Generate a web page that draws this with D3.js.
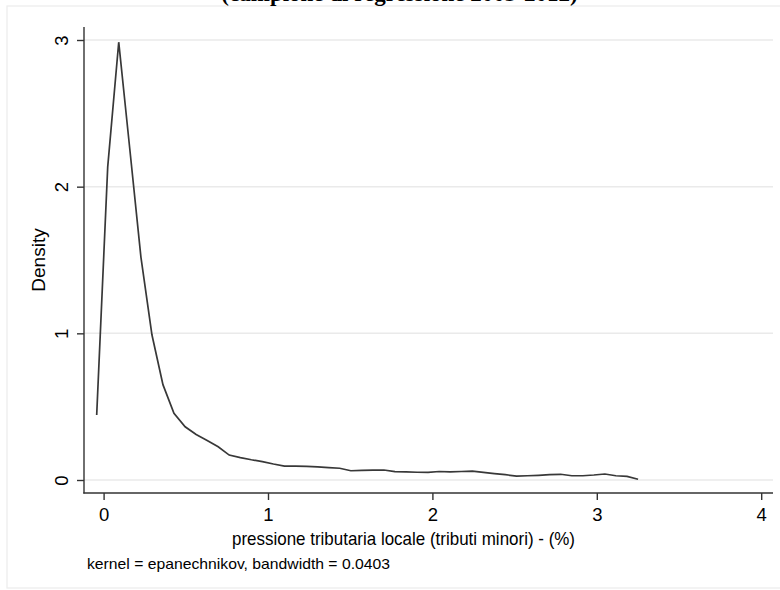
<!DOCTYPE html>
<html>
<head>
<meta charset="utf-8">
<script src="https://cdn.jsdelivr.net/npm/d3@7/dist/d3.min.js"></script>
<style>
  html, body { margin: 0; padding: 0; background: #fff; }
  svg { display: block; }
</style>
</head>
<body>
<svg id="chart" width="780" height="590"></svg>
<script>
// Kernel density estimate (evaluation grid x, density y)
const xValues = [-0.042, 0.025, 0.092, 0.159, 0.227, 0.294, 0.361, 0.428, 0.496, 0.563,
                 0.630, 0.697, 0.764, 0.832, 0.899, 0.966, 1.033, 1.100, 1.168, 1.235,
                 1.302, 1.369, 1.436, 1.504, 1.571, 1.638, 1.705, 1.772, 1.840, 1.907,
                 1.974, 2.041, 2.108, 2.176, 2.243, 2.310, 2.377, 2.444, 2.512, 2.579,
                 2.646, 2.713, 2.780, 2.848, 2.915, 2.982, 3.049, 3.116, 3.184, 3.251];
const densityValues = [0.443, 2.135, 2.985, 2.26, 1.52, 0.99, 0.65, 0.455, 0.363, 0.31,
                       0.27, 0.227, 0.17, 0.153, 0.138, 0.125, 0.109, 0.095, 0.094, 0.093,
                       0.09, 0.085, 0.080, 0.063, 0.065, 0.067, 0.068, 0.057, 0.055, 0.053,
                       0.052, 0.058, 0.056, 0.058, 0.061, 0.052, 0.044, 0.036, 0.027, 0.029,
                       0.032, 0.036, 0.039, 0.029, 0.029, 0.034, 0.041, 0.029, 0.025, 0.005];
const xTicks = [0, 1, 2, 3, 4];
const yTicks = [0, 1, 2, 3];
const titleText = "(campione di regressione 2003-2012)";
const xTitle = "pressione tributaria locale (tributi minori) - (%)";
const yTitle = "Density";
const noteText = "kernel = epanechnikov, bandwidth = 0.0403";

const svg = d3.select("#chart");
const sans = "'Liberation Sans', Arial, Helvetica, sans-serif";

const x = d3.scaleLinear().domain([0, 4]).range([103.6, 761.2]);
const y = d3.scaleLinear().domain([0, 3]).range([480, 40]);

// outer frame
svg.append("rect").attr("x", 7).attr("y", 6).attr("width", 790).attr("height", 582)
  .attr("fill", "none").attr("stroke", "#ececec").attr("stroke-width", 1.2);

// title (partially cut off at top, as in the original)
svg.append("text").attr("x", 399.5).attr("y", 0.5).attr("text-anchor", "middle")
  .attr("font-family", "'Liberation Serif', 'Times New Roman', serif")
  .attr("font-weight", "bold").attr("font-size", 23).attr("fill", "#000")
  .text(titleText);

// grid lines
svg.append("g").selectAll("line").data(yTicks).join("line")
  .attr("x1", 84).attr("x2", 773)
  .attr("y1", d => y(d)).attr("y2", d => y(d))
  .attr("stroke", "#eaeaea").attr("stroke-width", 1.5);

// y axis
const yAxis = d3.axisLeft(y).tickValues(yTicks).tickSize(7).tickPadding(9).tickFormat(d3.format("d"));
const gy = svg.append("g").attr("transform", "translate(84,0)").call(yAxis);
gy.select(".domain").remove();
gy.append("line").attr("x1", 0).attr("x2", 0).attr("y1", 27).attr("y2", 493.5)
  .attr("stroke", "#333").attr("stroke-width", 1.4);
gy.selectAll(".tick line").attr("stroke", "#333").attr("stroke-width", 1.4);
gy.selectAll(".tick text")
  .attr("x", null).attr("dy", null)
  .attr("transform", "translate(-16,0) rotate(-90)")
  .attr("text-anchor", "middle")
  .attr("font-family", sans).attr("font-size", 18.5).attr("fill", "#000");

// x axis
const xAxis = d3.axisBottom(x).tickValues(xTicks).tickSize(7).tickPadding(8).tickFormat(d3.format("d"));
const gx = svg.append("g").attr("transform", "translate(0,493)").call(xAxis);
gx.select(".domain").remove();
gx.append("line").attr("x1", 83.3).attr("x2", 773).attr("y1", 0).attr("y2", 0)
  .attr("stroke", "#333").attr("stroke-width", 1.4);
gx.selectAll(".tick line").attr("stroke", "#333").attr("stroke-width", 1.4);
gx.selectAll(".tick text")
  .attr("font-family", sans).attr("font-size", 18.5).attr("fill", "#000");

// axis titles
svg.append("text").attr("x", 232).attr("y", 545)
  .attr("textLength", 343).attr("lengthAdjust", "spacingAndGlyphs")
  .attr("font-family", sans).attr("font-size", 19).attr("fill", "#000").text(xTitle);
svg.append("text").attr("transform", "translate(45,260) rotate(-90)").attr("text-anchor", "middle")
  .attr("font-family", sans).attr("font-size", 19).attr("fill", "#000").text(yTitle);

// note
svg.append("text").attr("x", 87).attr("y", 569)
  .attr("textLength", 303).attr("lengthAdjust", "spacingAndGlyphs")
  .attr("font-family", sans).attr("font-size", 14.8).attr("fill", "#000").text(noteText);

// density line
const data = xValues.map((v, i) => ({ x: v, y: densityValues[i] }));
const line = d3.line().x(d => x(d.x)).y(d => y(d.y));
svg.append("path").datum(data).attr("d", line)
  .attr("fill", "none").attr("stroke", "#383838").attr("stroke-width", 1.7)
  .attr("stroke-linejoin", "miter");
</script>
</body>
</html>
